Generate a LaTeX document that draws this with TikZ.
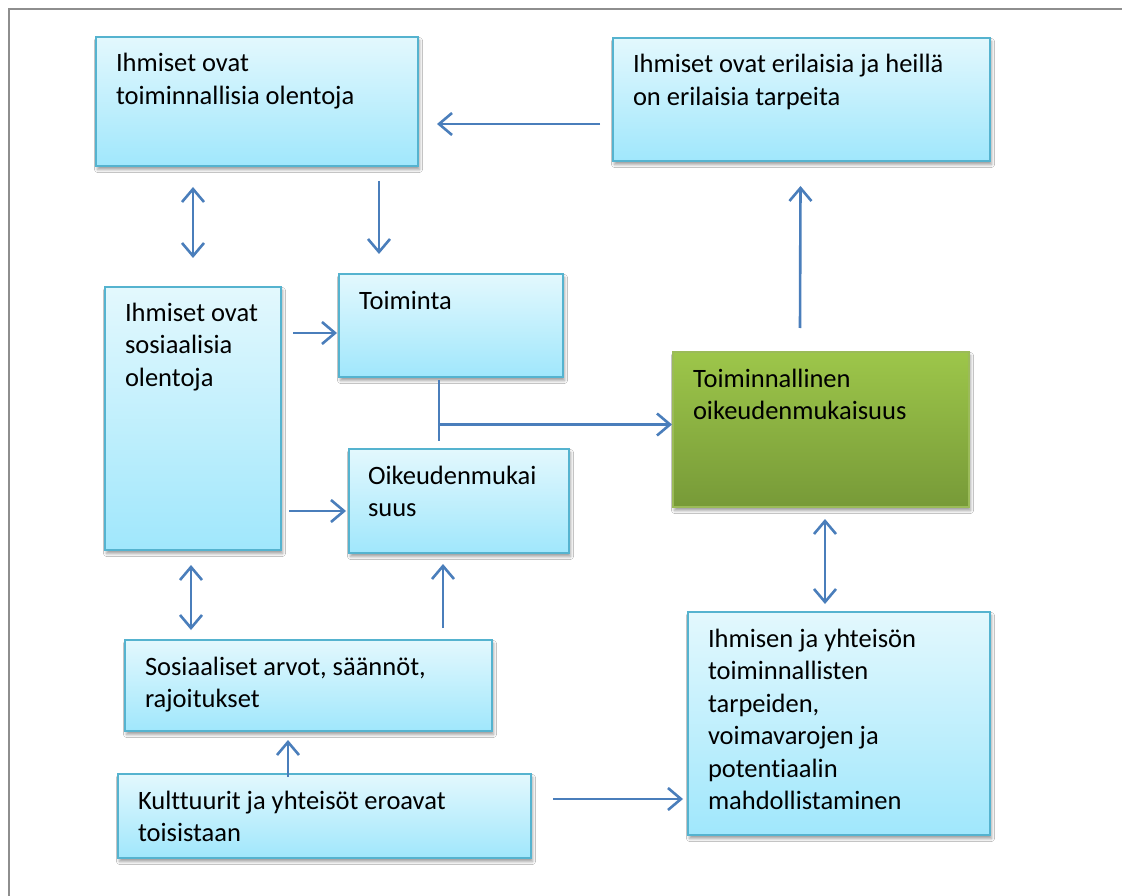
\documentclass[tikz,border=0pt]{standalone}
\usepackage{fontspec}
\setmainfont{Carlito}[Ligatures=NoCommon]
\usetikzlibrary{arrows.meta,shadows.blur}

\definecolor{cyanTop}{HTML}{E3F8FD}
\definecolor{cyanBot}{HTML}{A0E7FC}
\definecolor{cyanLine}{HTML}{55B3CF}
\definecolor{greenTop}{HTML}{9DC64A}
\definecolor{greenBot}{HTML}{779A38}
\definecolor{greenLine}{HTML}{9BBB59}
\definecolor{arrowBlue}{HTML}{4A7EBB}
\definecolor{frameGray}{HTML}{8E8E8E}

% text block whose baseline is that of its first line
\newcommand\lines[1]{\begin{tabular}[t]{@{}l@{}}#1\end{tabular}}

\tikzset{
  panel/.style={rectangle, inner sep=0pt, outer sep=0pt, line width=2pt,
    blur shadow={shadow xshift=1.5pt, shadow yshift=-3.5pt, shadow blur radius=3pt,
      shadow blur steps=6, shadow opacity=40}},
  cyanbox/.style={panel, draw=cyanLine, top color=cyanTop, bottom color=cyanBot},
  greenbox/.style={panel, draw=greenLine, top color=greenTop, bottom color=greenBot},
  lbl/.style={anchor=base west, inner sep=0pt, outer sep=0pt, text=black,
    font=\fontsize{26.5}{32.5}\selectfont},
  link/.style={draw=arrowBlue, line width=2.6pt},
  arr/.style={link, -{Straight Barb[length=13pt,width=22pt]}},
  dblarr/.style={link, {Straight Barb[length=13pt,width=22pt]}-{Straight Barb[length=13pt,width=22pt]}},
}

\begin{document}
\begin{tikzpicture}[x=1pt, y=-1pt]
\useasboundingbox (0,0) rectangle (1122,896);
\fill[white] (0,0) rectangle (1122,896);

% page frame
\draw[frameGray, line width=2pt] (8.5,900) -- (8.5,9) -- (1130,9);

% boxes
\node[cyanbox, minimum width=322pt, minimum height=129pt] (a) at (257,101.5) {};
\node[lbl] (a-t) at (116,72) {\lines{Ihmiset ovat\\toiminnallisia olentoja}};

\node[cyanbox, minimum width=377pt, minimum height=123pt] (b) at (801.5,99.5) {};
\node[lbl] (b-t) at (633,73) {\lines{Ihmiset ovat erilaisia ja heillä\\on erilaisia tarpeita}};

\node[cyanbox, minimum width=176pt, minimum height=263pt] (c) at (193,418.5) {};
\node[lbl] (c-t) at (125,321) {\lines{Ihmiset ovat\\sosiaalisia\\olentoja}};

\node[cyanbox, minimum width=224pt, minimum height=103pt] (d) at (451,325.5) {};
\node[lbl] (d-t) at (359,309) {\lines{Toiminta}};

\node[cyanbox, minimum width=220pt, minimum height=104pt] (e) at (459,501) {};
\node[lbl] (e-t) at (368,484) {\lines{Oikeudenmukai\\suus}};

\node[greenbox, minimum width=296pt, minimum height=155pt] (f) at (821,429.5) {};
\node[lbl] (f-t) at (693,387) {\lines{Toiminnallinen\\oikeudenmukaisuus}};

\node[cyanbox, minimum width=367pt, minimum height=91pt] (g) at (308.5,685.5) {};
\node[lbl] (g-t) at (145,675) {\lines{Sosiaaliset arvot, säännöt,\\rajoitukset}};

\node[cyanbox, minimum width=413pt, minimum height=84pt] (h) at (324.5,816) {};
\node[lbl] (h-t) at (138,809) {\lines{Kulttuurit ja yhteisöt eroavat\\toisistaan}};

\node[cyanbox, minimum width=302pt, minimum height=223pt] (i) at (839,723.5) {};
\node[lbl] (i-t) at (708,647) {\lines{Ihmisen ja yhteisön\\toiminnallisten\\tarpeiden,\\voimavarojen ja\\potentiaalin\\mahdollistaminen}};

% connectors
\draw[arr] ([shift={(-13,24.5)}]b.west) -- ([shift={(19,22.5)}]a.east);
\draw[dblarr] ([shift={(-64,21)}]a.south) -- ([shift={(0,-29)}]c.north);
\draw[arr] ([shift={(122,15)}]a.south) -- ([shift={(-72,-20)}]d.north);
\draw[arr] ([shift={(12,-85.5)}]c.east) -- ([shift={(-2,7.5)}]d.west);
\draw[arr] ([shift={(8,92.5)}]c.east) -- ([shift={(-3,10)}]e.west);

\draw[link] ([shift={(-12,3)}]d.south) -- ([shift={(-20,-8)}]e.north);
\coordinate (j) at ([shift={(-12,47.5)}]d.south);
\draw[arr] (j) -- ([shift={(-1,-5)}]f.west);

\draw[arr] ([shift={(-21,-24)}]f.north) -- ([shift={(-1,25)}]b.south);
\draw[dblarr] ([shift={(4,12)}]f.south) -- ([shift={(-14,-8)}]i.north);
\draw[dblarr] ([shift={(-2,15)}]c.south) -- ([shift={(-117.5,-10)}]g.north);
\draw[arr] ([shift={(134.5,-12)}]g.north) -- ([shift={(-16,11)}]e.south);
\draw[arr] ([shift={(-36.5,3)}]h.north) -- ([shift={(-20.5,9)}]g.south);
\draw[arr] ([shift={(22,-17)}]h.east) -- ([shift={(-5,75.5)}]i.west);
\end{tikzpicture}
\end{document}
